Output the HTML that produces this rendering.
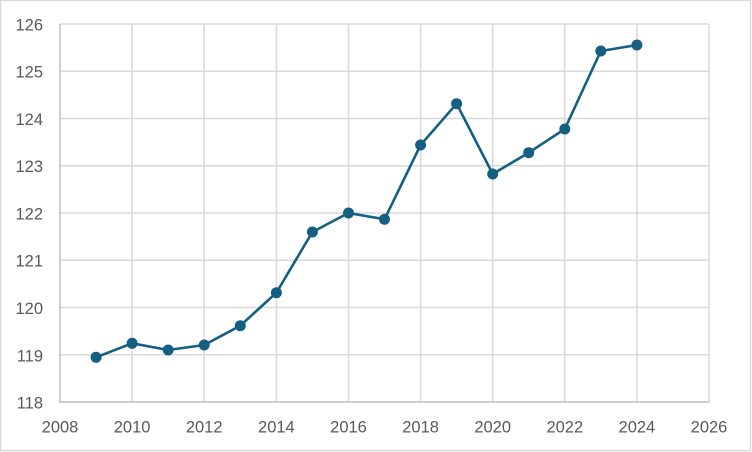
<!DOCTYPE html>
<html><head><meta charset="utf-8"><style>
html,body{margin:0;padding:0;background:#fff;}
svg{display:block;}
text{font-family:"Liberation Sans",sans-serif;font-size:16.5px;fill:#595959;}
</style></head><body>
<svg width="752" height="452" viewBox="0 0 752 452" xmlns="http://www.w3.org/2000/svg">
<rect x="0.5" y="0.5" width="750" height="450" fill="#fff" stroke="#d9d9d9" stroke-width="1.5"/>
<g stroke="#d9d9d9" stroke-width="1.5">
<line x1="60" y1="24" x2="709" y2="24"/>
<line x1="60" y1="71.25" x2="709" y2="71.25"/>
<line x1="60" y1="118.5" x2="709" y2="118.5"/>
<line x1="60" y1="165.75" x2="709" y2="165.75"/>
<line x1="60" y1="213" x2="709" y2="213"/>
<line x1="60" y1="260.25" x2="709" y2="260.25"/>
<line x1="60" y1="307.5" x2="709" y2="307.5"/>
<line x1="60" y1="354.75" x2="709" y2="354.75"/>
<line x1="132.1" y1="24" x2="132.1" y2="402"/>
<line x1="204.2" y1="24" x2="204.2" y2="402"/>
<line x1="276.4" y1="24" x2="276.4" y2="402"/>
<line x1="348.5" y1="24" x2="348.5" y2="402"/>
<line x1="420.6" y1="24" x2="420.6" y2="402"/>
<line x1="492.7" y1="24" x2="492.7" y2="402"/>
<line x1="564.8" y1="24" x2="564.8" y2="402"/>
<line x1="636.9" y1="24" x2="636.9" y2="402"/>
<line x1="709" y1="24" x2="709" y2="402"/>
</g>
<g stroke="#bfbfbf" stroke-width="1.5">
<line x1="60" y1="24" x2="60" y2="402.7"/>
<line x1="59.3" y1="402" x2="709" y2="402"/>
</g>
<g text-anchor="end">
<text x="43" y="30.5">126</text>
<text x="43" y="77.7">125</text>
<text x="43" y="125">124</text>
<text x="43" y="172.2">123</text>
<text x="43" y="219.5">122</text>
<text x="43" y="266.7">121</text>
<text x="43" y="314">120</text>
<text x="43" y="361.5">119</text>
<text x="43" y="408.7">118</text>
</g>
<g text-anchor="middle">
<text x="60" y="432.7">2008</text>
<text x="132.1" y="432.7">2010</text>
<text x="204.2" y="432.7">2012</text>
<text x="276.4" y="432.7">2014</text>
<text x="348.5" y="432.7">2016</text>
<text x="420.6" y="432.7">2018</text>
<text x="492.7" y="432.7">2020</text>
<text x="564.8" y="432.7">2022</text>
<text x="636.9" y="432.7">2024</text>
<text x="709" y="432.7">2026</text>
</g>
<polyline fill="none" stroke="#156082" stroke-width="2.6" stroke-linejoin="round" points="96.1,357.3 132.1,343.3 168.2,350 204.2,345 240.3,325.7 276.4,292.7 312.4,232 348.5,213 384.5,219.3 420.6,145 456.6,103.7 492.7,174 528.7,152.7 564.8,129 600.8,51 636.9,45"/>
<g fill="#156082">
<circle cx="96.1" cy="357.3" r="5.5"/>
<circle cx="132.1" cy="343.3" r="5.5"/>
<circle cx="168.2" cy="350" r="5.5"/>
<circle cx="204.2" cy="345" r="5.5"/>
<circle cx="240.3" cy="325.7" r="5.5"/>
<circle cx="276.4" cy="292.7" r="5.5"/>
<circle cx="312.4" cy="232" r="5.5"/>
<circle cx="348.5" cy="213" r="5.5"/>
<circle cx="384.5" cy="219.3" r="5.5"/>
<circle cx="420.6" cy="145" r="5.5"/>
<circle cx="456.6" cy="103.7" r="5.5"/>
<circle cx="492.7" cy="174" r="5.5"/>
<circle cx="528.7" cy="152.7" r="5.5"/>
<circle cx="564.8" cy="129" r="5.5"/>
<circle cx="600.8" cy="51" r="5.5"/>
<circle cx="636.9" cy="45" r="5.5"/>
</g>
</svg>
</body></html>
